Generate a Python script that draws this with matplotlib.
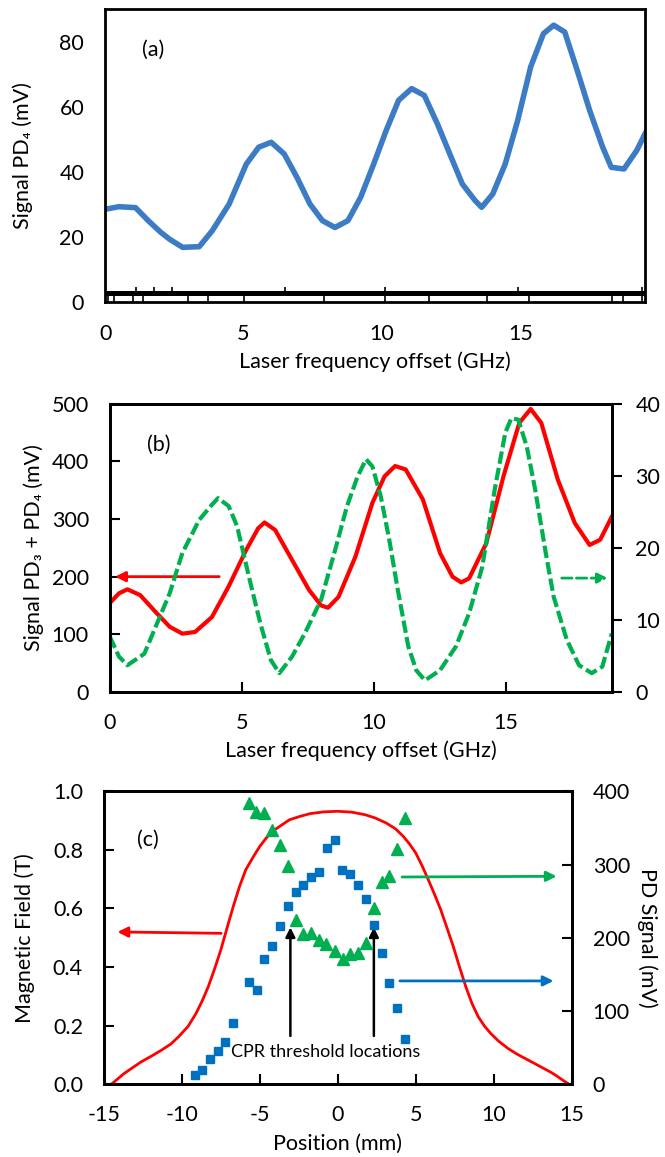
import matplotlib
matplotlib.use("Agg")
import matplotlib.pyplot as plt

plt.rcParams['font.family'] = ['Lato', 'DejaVu Sans']
plt.rcParams['font.size'] = 15.5
plt.rcParams['axes.unicode_minus'] = False

# (a) PD4 signal vs laser frequency offset
a_freq = [0.0, 0.5, 1.1, 1.56, 2.0, 2.33, 2.8, 3.4, 3.87, 4.48, 5.1, 5.55, 6.0,
          6.47, 6.93, 7.4, 7.85, 8.3, 8.77, 9.23, 9.7, 10.15, 10.6, 11.07, 11.53,
          12.0, 12.45, 12.9, 13.37, 13.6, 14.0, 14.45, 14.9, 15.37, 15.83, 16.2,
          16.6, 17.05, 17.5, 17.97, 18.28, 18.74, 19.2, 19.5]
a_pd4 = [28.5, 29.3, 29.0, 25.0, 21.5, 19.3, 16.8, 17.0, 21.9, 30.1, 42.4, 47.6, 49.1,
         45.5, 38.3, 30.1, 25.0, 22.9, 25.0, 32.2, 42.4, 52.7, 62.0, 65.6, 63.5,
         54.8, 45.5, 36.3, 31.1, 29.1, 33.2, 42.4, 55.8, 72.3, 82.5, 85.1,
         83.0, 71.2, 58.9, 47.6, 41.4, 40.9, 46.6, 51.7]
# background trace (black) near zero
bg_low, bg_high = 1.8, 3.4
bg_up_spikes = [1.1, 1.75, 2.4, 6.5, 10.1, 14.9, 19.4]
bg_down_spikes = [0.1, 0.34, 1.0, 1.38, 3.0, 3.7, 5.0, 7.9, 10.1, 11.7, 13.8,
                  15.3, 18.3, 18.7, 19.4]

# (b) PD3 + PD4 (left axis) and PD4 (right axis)
b_freq_red = [0.0, 0.35, 0.67, 1.15, 1.79, 2.27, 2.75, 3.23, 3.87, 4.5, 5.16, 5.62,
              5.86, 6.26, 6.9, 7.54, 8.0, 8.26, 8.66, 9.3, 9.94, 10.4, 10.8, 11.2,
              11.85, 12.5, 12.97, 13.3, 13.6, 14.25, 14.9, 15.5, 15.93, 16.33,
              16.96, 17.6, 18.16, 18.56, 19.0]
b_sum = [154, 171, 178, 168, 136, 113, 101, 104, 130, 183, 246, 284,
         294, 281, 229, 177, 150, 146, 165, 235, 328, 374, 392, 386,
         334, 241, 200, 190, 197, 258, 374, 467, 491, 467,
         368, 293, 255, 264, 304]
b_freq_grn = [0.0, 0.35, 0.67, 1.31, 1.79, 2.27, 2.75, 3.39, 3.87, 4.1, 4.5, 4.82,
              5.3, 5.7, 6.1, 6.42, 6.9, 7.38, 8.0, 8.5, 8.98, 9.38, 9.7, 9.94,
              10.26, 10.58, 10.9, 11.3, 11.6, 11.93, 12.5, 13.1, 13.6, 14.1,
              14.57, 14.97, 15.2, 15.46, 15.78, 16.1, 16.5, 16.8, 17.3, 17.76,
              18.24, 18.64, 19.0]
b_pd4 = [7.7, 4.9, 3.7, 5.3, 9.5, 13.7, 19.3, 23.9, 26.0, 26.9, 25.8, 23.0,
         15.5, 9.5, 4.4, 2.6, 4.9, 8.1, 12.8, 19.3, 25.8, 29.9, 32.3, 31.3,
         27.1, 21.1, 14.2, 6.3, 3.0, 1.6, 3.0, 6.3, 10.9, 17.4,
         28.1, 36.0, 38.0, 37.8, 34.1, 28.1, 19.3, 13.2, 7.2, 3.7,
         2.6, 3.5, 8.1]

# (c) magnetic field profile and PD signals vs position
c_pos_field = [-14.5, -14.1, -13.7, -13.1, -12.6, -11.9, -11.3, -10.7, -10.2, -9.6,
               -9.1, -8.7, -8.3, -7.9, -7.5, -7.1, -6.7, -6.3, -5.9, -5.4, -5.0,
               -4.6, -4.2, -3.6, -3.1, -2.4, -1.77, -0.9, 0.0, 0.9, 1.77, 2.4,
               3.1, 3.7, 4.2, 4.6, 5.0, 5.4, 5.8, 6.2, 6.6, 7.0, 7.4, 7.8, 8.2,
               8.6, 9.0, 9.4, 9.8, 10.3, 10.9, 11.5, 12.2, 12.9, 13.6, 14.0,
               14.4, 14.8]
c_field = [0.0, 0.018, 0.036, 0.058, 0.076, 0.097, 0.116, 0.137, 0.162, 0.197,
           0.24, 0.283, 0.333, 0.393, 0.458, 0.533, 0.607, 0.675, 0.732, 0.778, 0.812,
           0.84, 0.863, 0.885, 0.903, 0.915, 0.924, 0.93, 0.932, 0.929, 0.92, 0.909,
           0.892, 0.872, 0.846, 0.82, 0.789, 0.746, 0.698, 0.648, 0.595, 0.533, 0.47,
           0.4, 0.333, 0.275, 0.23, 0.198, 0.173, 0.147, 0.122, 0.102, 0.082,
           0.062, 0.042, 0.029, 0.014, 0.0]
c_pos_sq = [-9.18, -8.7, -8.2, -7.7, -7.2, -6.7, -5.68, -5.19, -4.7, -4.21, -3.72,
            -3.18, -2.69, -2.2, -1.71, -1.22, -0.68, -0.19, 0.27, 0.79, 1.3, 1.82,
            2.31, 2.8, 3.29, 3.8, 4.29]
c_sq = [12.3, 19.2, 33.8, 45.6, 57.9, 83.9, 140.0, 128.6, 170.6, 188.8, 216.6,
        244.0, 262.3, 271.4, 282.8, 289.6, 322.5, 333.0, 292.8, 286.9, 271.4, 252.7,
        217.6, 178.8, 137.7, 103.5, 61.1]
c_pos_tri = [-5.71, -5.22, -4.7, -4.21, -3.72, -3.18, -2.66, -2.2, -1.71, -1.22,
             -0.73, -0.19, 0.3, 0.79, 1.28, 1.82, 2.31, 2.8, 3.29, 3.78, 4.29]
c_tri = [384.0, 371.7, 370.4, 347.5, 327.0, 298.3, 224.4, 205.2, 206.2, 197.0,
         191.6, 182.4, 170.6, 177.4, 179.7, 192.5, 240.4, 275.5, 285.0, 321.0, 363.5]
cpr_positions = [-3.04, 2.31]

BLUE_A = '#3B7CC4'
RED = '#FF0000'
GREEN = '#00B050'
BLUE_C = '#0070C0'

fig = plt.figure(figsize=(6.65, 11.57), dpi=100)


def style_spines(ax):
    for s in ax.spines.values():
        s.set_linewidth(2)
        s.set_color('black')


# ---- panel (a)
ax1 = fig.add_axes([0.158, 0.739, 0.812, 0.253])
ax1.fill_between([0, 19.5], bg_low, bg_high, color='black', lw=0)
ax1.vlines(bg_up_spikes, bg_low, 4.6, color='black', lw=1.2)
ax1.vlines(bg_down_spikes, 0, bg_low, color='black', lw=1.2)
ax1.plot(a_freq, a_pd4, color=BLUE_A, lw=4)
ax1.set_xlim(0, 19.5)
ax1.set_ylim(0, 90)
ax1.set_xticks([0, 5, 10, 15])
ax1.set_yticks([0, 20, 40, 60, 80])
ax1.tick_params(length=0)
ax1.tick_params(axis='y', pad=15)
ax1.tick_params(axis='x', pad=16)
ax1.set_xlabel('Laser frequency offset (GHz)')
ax1.xaxis.set_label_coords(0.5, -0.17)
ax1.set_ylabel('Signal PD₄ (mV)')
ax1.yaxis.set_label_coords(-0.133, 0.5)
ax1.text(1.75, 77.4, '(a)', ha='center', va='center')
style_spines(ax1)

# ---- panel (b)
ax2 = fig.add_axes([0.165, 0.402, 0.755, 0.249])
ax2r = ax2.twinx()
ax2.plot(b_freq_red, b_sum, color=RED, lw=3)
ax2r.plot(b_freq_grn, b_pd4, color=GREEN, lw=3, linestyle=(0, (3, 1)))
ax2.set_xlim(0, 19)
ax2.set_ylim(0, 500)
ax2r.set_ylim(0, 40)
ax2.set_xticks([0, 5, 10, 15])
ax2.set_yticks([0, 100, 200, 300, 400, 500])
ax2r.set_yticks([0, 10, 20, 30, 40])
ax2.tick_params(direction='in', length=7, width=1.5, pad=15)
ax2r.tick_params(direction='out', length=7, width=1.5, pad=10)
ax2.annotate('', xy=(0.1, 200), xytext=(4.25, 200),
             arrowprops=dict(arrowstyle='-|>', color=RED, lw=2, mutation_scale=15))
ax2r.annotate('', xy=(18.95, 15.8), xytext=(17.0, 15.8),
              arrowprops=dict(arrowstyle='-|>', color=GREEN, lw=2, linestyle='--',
                              mutation_scale=15))
ax2.set_xlabel('Laser frequency offset (GHz)')
ax2.xaxis.set_label_coords(0.5, -0.167)
ax2.set_ylabel('Signal PD₃ + PD₄ (mV)')
ax2.yaxis.set_label_coords(-0.131, 0.5)
ax2.text(1.87, 429, '(b)', ha='center', va='center')
style_spines(ax2)
style_spines(ax2r)

# ---- panel (c)
ax3 = fig.add_axes([0.156, 0.063, 0.704, 0.253])
ax3r = ax3.twinx()
ax3.plot(c_pos_field, c_field, color=RED, lw=2)
ax3r.plot(c_pos_sq, c_sq, 's', color=BLUE_C, ms=6)
ax3r.plot(c_pos_tri, c_tri, '^', color=GREEN, ms=8)
ax3.set_xlim(-15, 15)
ax3.set_ylim(0, 1.0)
ax3r.set_ylim(0, 400)
ax3.set_xticks([-15, -10, -5, 0, 5, 10, 15])
ax3.set_yticks([0, 0.2, 0.4, 0.6, 0.8, 1.0])
ax3.set_yticklabels([f'{v:.1f}' for v in [0, 0.2, 0.4, 0.6, 0.8, 1.0]])
ax3r.set_yticks([0, 100, 200, 300, 400])
ax3.tick_params(direction='in', length=7, width=1.5, pad=15)
ax3r.tick_params(direction='in', length=7, width=1.5, pad=15)
ax3.annotate('', xy=(-14.3, 0.52), xytext=(-7.3, 0.515),
             arrowprops=dict(arrowstyle='-|>', color=RED, lw=2, mutation_scale=15))
ax3r.annotate('', xy=(14.2, 284), xytext=(3.94, 283),
              arrowprops=dict(arrowstyle='-|>', color=GREEN, lw=2, mutation_scale=15))
ax3r.annotate('', xy=(14.0, 141), xytext=(3.8, 141),
              arrowprops=dict(arrowstyle='-|>', color=BLUE_C, lw=2, mutation_scale=15))
for p in cpr_positions:
    ax3.annotate('', xy=(p, 0.545), xytext=(p, 0.155),
                 arrowprops=dict(arrowstyle='-|>', color='black', lw=1.8,
                                 mutation_scale=14))
ax3.text(-0.8, 0.11, 'CPR threshold locations', ha='center', va='center', fontsize=13)
ax3.set_xlabel('Position (mm)')
ax3.xaxis.set_label_coords(0.5, -0.17)
ax3.set_ylabel('Magnetic Field (T)')
ax3.yaxis.set_label_coords(-0.147, 0.5)
ax3r.set_ylabel('PD Signal (mV)', rotation=270, va='center')
ax3r.yaxis.set_label_coords(1.162, 0.5)
ax3.text(-12.2, 0.835, '(c)', ha='center', va='center')
style_spines(ax3)
style_spines(ax3r)
ax3r.set_zorder(ax3.get_zorder() + 1)
ax3r.patch.set_visible(False)

fig.savefig('out.png', dpi=100)
